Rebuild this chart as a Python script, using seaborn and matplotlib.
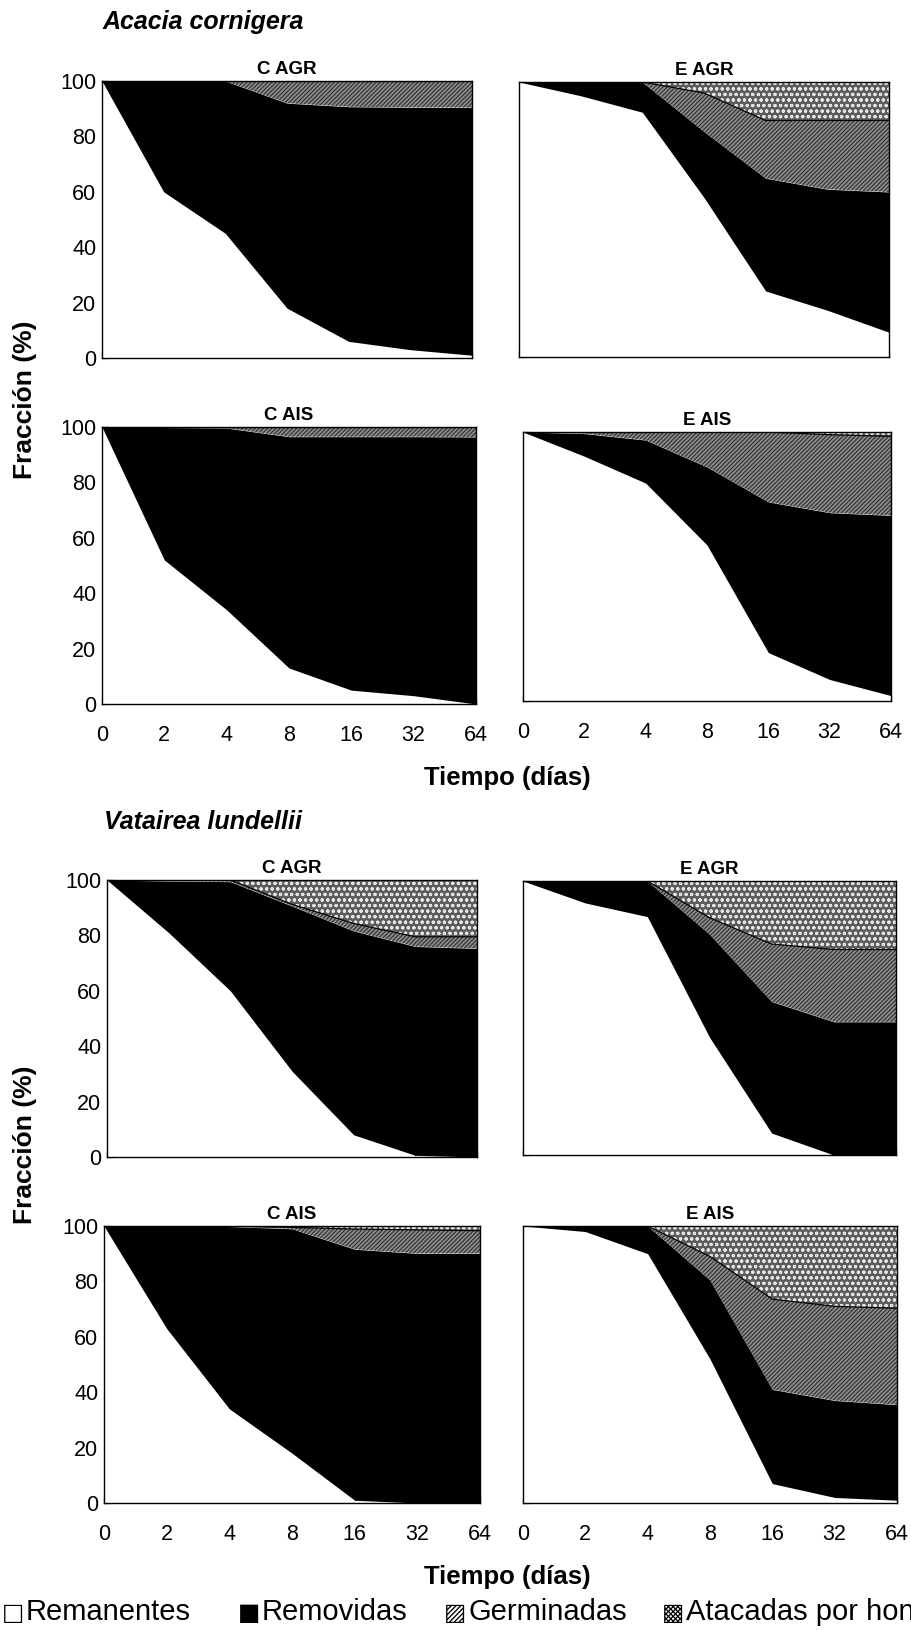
import numpy as np
import matplotlib
matplotlib.use("Agg")
import matplotlib.pyplot as plt
import seaborn as sns

# time points (days), drawn at equal spacing
days = ["0", "2", "4", "8", "16", "32", "64"]
layer_names = ["Remanentes", "Removidas", "Germinadas", "Atacadas por hongos"]
layer_marks = ["□", "■", "▨", "▩"]

# Acacia cornigera - fractions (%) per layer
ac_c_agr_rem = [100, 60, 45, 18, 6, 3, 1]
ac_c_agr_rmv = [0, 40, 55, 74, 84.7, 87.5, 89.4]
ac_c_agr_ger = [0, 0, 0, 8, 9.3, 9.5, 9.6]
ac_c_agr_ata = [0, 0, 0, 0, 0, 0, 0]

ac_e_agr_rem = [100, 95, 89, 58, 24, 17, 9]
ac_e_agr_rmv = [0, 5, 11, 24, 41, 44, 51]
ac_e_agr_ger = [0, 0, 0, 14, 21, 25, 26]
ac_e_agr_ata = [0, 0, 0, 4, 14, 14, 14]

ac_c_ais_rem = [100, 52, 34, 13, 5, 3, 0]
ac_c_ais_rmv = [0, 47.8, 65.6, 83.5, 91.5, 93.5, 96.4]
ac_c_ais_ger = [0, 0.2, 0.4, 3.5, 3.5, 3.5, 3.6]
ac_c_ais_ata = [0, 0, 0, 0, 0, 0, 0]

ac_e_ais_rem = [100, 91, 81, 58, 18, 8, 2]
ac_e_ais_rmv = [0, 8.4, 16, 29, 56, 62, 67]
ac_e_ais_ger = [0, 0.6, 3, 13, 26, 29, 29.4]
ac_e_ais_ata = [0, 0, 0, 0, 0, 1, 1.6]

# Vatairea lundellii
va_c_agr_rem = [100, 81, 60, 31, 8, 0.6, 0]
va_c_agr_rmv = [0, 18.6, 39.4, 59.6, 73.6, 75.4, 75.3]
va_c_agr_ger = [0, 0.4, 0.6, 0.6, 2.7, 3.5, 4.2]
va_c_agr_ata = [0, 0, 0, 8.8, 15.7, 20.5, 20.5]

va_e_agr_rem = [100, 92, 87, 43, 8, 0, 0]
va_e_agr_rmv = [0, 8, 13, 37.6, 48, 48.6, 48.6]
va_e_agr_ger = [0, 0, 0, 6, 21, 26.4, 26.4]
va_e_agr_ata = [0, 0, 0, 13.4, 23, 25, 25]

va_c_ais_rem = [100, 63, 34, 18, 1, 0, 0]
va_c_ais_rmv = [0, 37, 65.8, 81, 90.6, 90.1, 90.1]
va_c_ais_ger = [0, 0, 0.2, 0.5, 7.3, 8.5, 8.2]
va_c_ais_ata = [0, 0, 0, 0.5, 1.1, 1.4, 1.7]

va_e_ais_rem = [100, 98, 90, 52, 7, 2, 1]
va_e_ais_rmv = [0, 2, 10, 28.5, 34, 35, 34.5]
va_e_ais_ger = [0, 0, 0, 8.5, 32.6, 34, 34.8]
va_e_ais_ata = [0, 0, 0, 11, 26.4, 29, 29.7]

W, H = 911, 1630

STYLES = [
    dict(facecolor="white", hatch=None, edgecolor="white"),
    dict(facecolor="black", hatch=None, edgecolor="black"),
    dict(facecolor="#8c8c8c", hatch="////////", edgecolor="#2e2e2e"),
    dict(facecolor="#5c5c5c", hatch="ooo", edgecolor="#e6e6e6"),
]

# (title, pixel box x0, y0, x1, y1, layers, x labels shown, y labels shown)
panels = [
    ("C AGR", (102, 81, 472, 358), [ac_c_agr_rem, ac_c_agr_rmv, ac_c_agr_ger, ac_c_agr_ata], False, True),
    ("E AGR", (519, 82, 889, 357), [ac_e_agr_rem, ac_e_agr_rmv, ac_e_agr_ger, ac_e_agr_ata], False, False),
    ("C AIS", (102, 427, 476, 704), [ac_c_ais_rem, ac_c_ais_rmv, ac_c_ais_ger, ac_c_ais_ata], True, True),
    ("E AIS", (523, 432, 891, 701), [ac_e_ais_rem, ac_e_ais_rmv, ac_e_ais_ger, ac_e_ais_ata], True, False),
    ("C AGR", (107, 880, 477, 1157), [va_c_agr_rem, va_c_agr_rmv, va_c_agr_ger, va_c_agr_ata], False, True),
    ("E AGR", (523, 881, 896, 1155), [va_e_agr_rem, va_e_agr_rmv, va_e_agr_ger, va_e_agr_ata], False, False),
    ("C AIS", (104, 1226, 480, 1503), [va_c_ais_rem, va_c_ais_rmv, va_c_ais_ger, va_c_ais_ata], True, True),
    ("E AIS", (523, 1226, 897, 1503), [va_e_ais_rem, va_e_ais_rmv, va_e_ais_ger, va_e_ais_ata], True, False),
]


def draw_panel(ax, title, layers, show_x, show_y):
    x = np.arange(len(days))
    base = np.zeros(len(days))
    for vals, st in zip(layers, STYLES):
        top = base + np.array(vals, dtype=float)
        ax.fill_between(x, base, top, facecolor=st["facecolor"], hatch=st["hatch"],
                        edgecolor=st["edgecolor"], linewidth=0)
        base = top
    # thin black line between germinated and fungus-attacked seeds
    ger_top = np.sum(np.array(layers[:3], dtype=float), axis=0)
    sns.lineplot(x=x, y=ger_top, ax=ax, color="black", linewidth=0.9)

    ax.set_xlim(0, len(days) - 1)
    ax.set_ylim(0, 100)
    ax.set_xticks(x)
    ax.set_yticks(range(0, 101, 20))
    ax.set_xticklabels(days if show_x else [])
    if not show_y:
        ax.set_yticklabels([])
    ax.tick_params(axis="both", direction="in", length=4, width=0.9, colors="black", labelsize=15.5)
    ax.tick_params(axis="x", pad=15)
    ax.tick_params(axis="y", pad=4)
    ax.set_xlabel("")
    ax.set_ylabel("")
    for sp in ax.spines.values():
        sp.set_visible(True)
        sp.set_color("black")
        sp.set_linewidth(1.0)
    ax.set_title(title, fontsize=13.5, fontweight="bold", pad=5, color="black")


def main():
    sns.set_theme(style="ticks")
    plt.rcParams["font.family"] = ["Liberation Sans", "DejaVu Sans"]
    plt.rcParams["hatch.linewidth"] = 0.8
    plt.rcParams["text.color"] = "black"

    fig = plt.figure(figsize=(W / 100, H / 100), dpi=100)
    fig.patch.set_facecolor("white")

    for title, (x0, y0, x1, y1), layers, show_x, show_y in panels:
        ax = fig.add_axes([x0 / W, 1 - y1 / H, (x1 - x0) / W, (y1 - y0) / H])
        ax.set_facecolor("white")
        draw_panel(ax, title, layers, show_x, show_y)

    # species headings
    fig.text(103 / W, 1 - 22 / H, "Acacia cornigera", fontsize=18, fontweight="bold",
             style="italic", ha="left", va="center")
    fig.text(104 / W, 1 - 822 / H, "Vatairea lundellii", fontsize=18, fontweight="bold",
             style="italic", ha="left", va="center")

    for yc in (400, 1145):
        fig.text(25 / W, 1 - yc / H, "Fracción (%)", fontsize=19, fontweight="bold",
                 rotation=90, ha="center", va="center")
    for yc in (778, 1577):
        fig.text(507 / W, 1 - yc / H, "Tiempo (días)", fontsize=18.5, fontweight="bold",
                 ha="center", va="center")

    # legend written as a row of glyph + label, as in the original (runs past the right edge)
    legend_x = [2, 238, 444, 662]
    for mk, name, lx in zip(layer_marks, layer_names, legend_x):
        fig.text(lx / W, 1 - 1613 / H, mk, fontsize=17, family=["DejaVu Sans"],
                 ha="left", va="center")
        fig.text((lx + 24) / W, 1 - 1612 / H, name, fontsize=21,
                 ha="left", va="center")

    fig.savefig("out.png", dpi=100, facecolor="white")
    plt.close(fig)


if __name__ == "__main__":
    main()
